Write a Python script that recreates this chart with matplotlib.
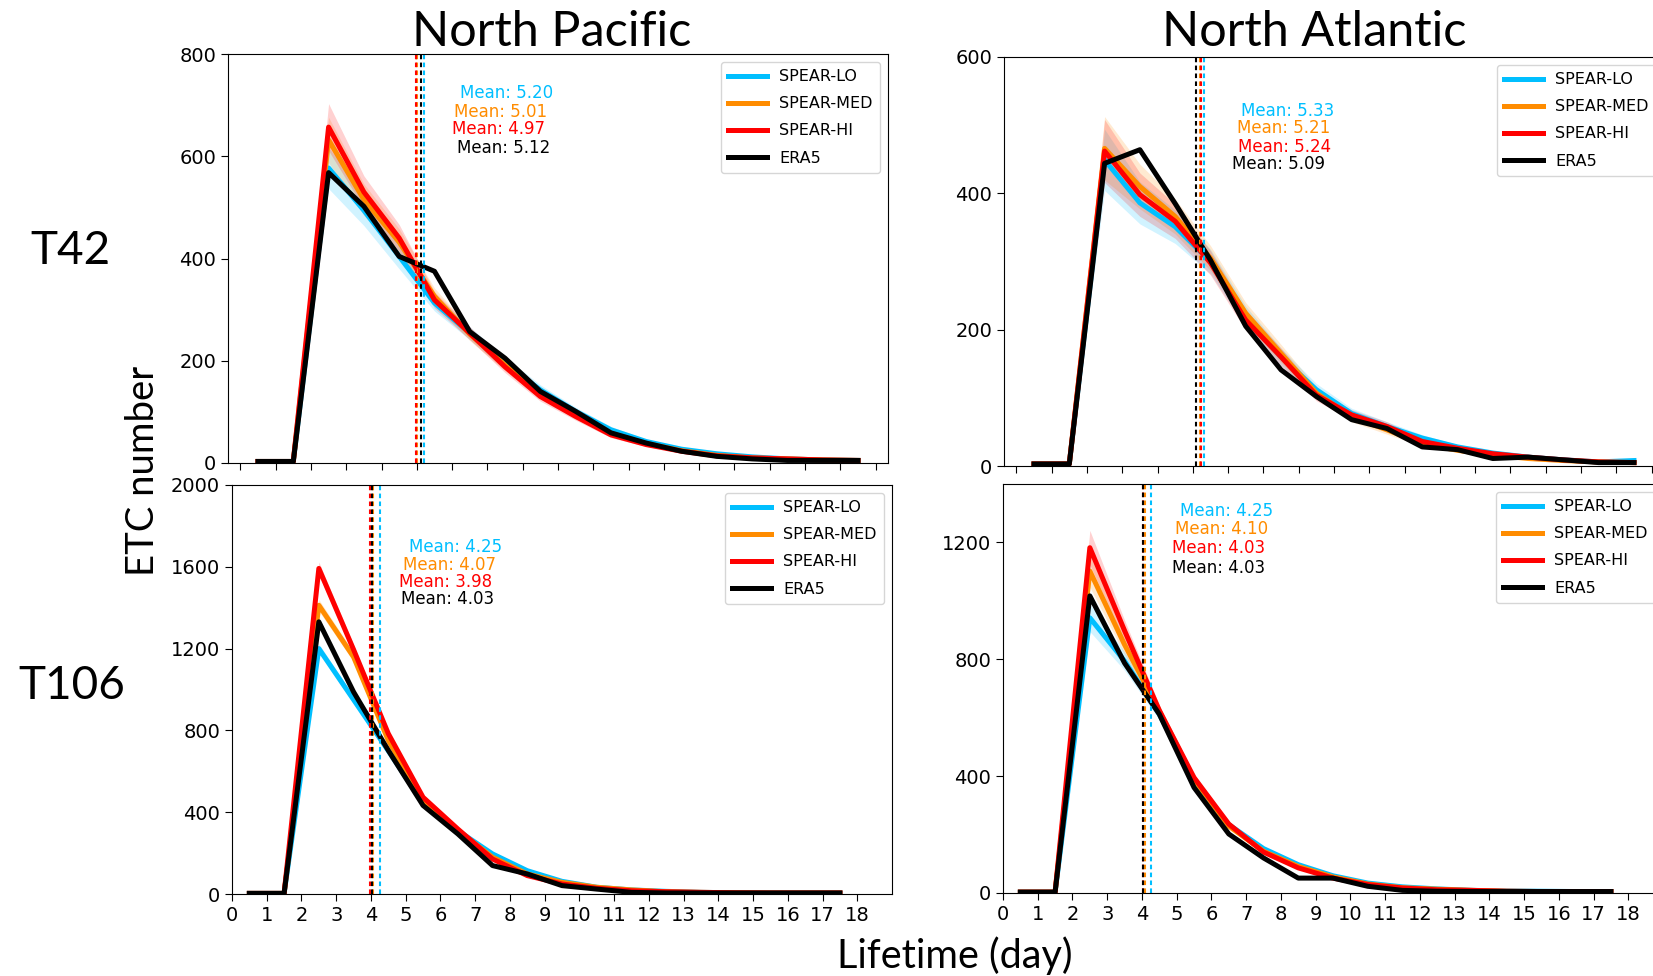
import numpy as np
import matplotlib
matplotlib.use('Agg')
import matplotlib.pyplot as plt

# lifetime bins (day)
days = [0.5, 1.5, 2.5, 3.5, 4.5, 5.5, 6.5, 7.5, 8.5, 9.5,
        10.5, 11.5, 12.5, 13.5, 14.5, 15.5, 16.5, 17.5]
models = ['SPEAR-LO', 'SPEAR-MED', 'SPEAR-HI', 'ERA5']
colors = ['#00bfff', '#ff8c00', '#ff0000', '#000000']

# North Pacific, T42
np42_lo = [3, 3, 577, 494, 404, 313, 254, 195, 143, 101, 65, 42, 27, 18, 12, 8, 6, 5]
np42_med = [3, 3, 632, 515, 432, 326, 252, 192, 135, 95, 58, 38, 24, 15, 10, 8, 6, 5]
np42_hi = [3, 3, 657, 530, 440, 319, 254, 188, 130, 91, 55, 36, 23, 14, 10, 8, 6, 5]
np42_era5 = [3, 3, 568, 502, 404, 375, 257, 205, 140, 101, 59, 39, 23, 13, 8, 5, 5, 5]
np42_spread = [0, 0, .07, .06, .06, .05, .05, .06, .07, .08, .1, .1, .1, .1, .1, .1, .1, .1]
np42_means = [5.20, 5.01, 4.97, 5.12]

# North Atlantic, T42
na42_lo = [3, 3, 449, 386, 351, 300, 219, 160, 112, 77, 58, 41, 28, 19, 13, 9, 6, 8]
na42_med = [3, 3, 466, 410, 366, 305, 224, 165, 107, 72, 53, 33, 23, 16, 11, 8, 6, 5]
na42_hi = [3, 3, 462, 398, 359, 298, 214, 160, 104, 75, 58, 36, 26, 18, 13, 9, 6, 5]
na42_era5 = [3, 3, 444, 464, 385, 302, 205, 141, 102, 68, 55, 28, 24, 11, 13, 9, 5, 5]
na42_spread = [0, 0, .1, .08, .07, .06, .07, .08, .08, .1, .12, .12, .12, .12, .12, .12, .12, .12]
na42_means = [5.33, 5.21, 5.24, 5.09]

# North Pacific, T106
np106_lo = [3, 3, 1200, 950, 700, 445, 310, 196, 114, 62, 33, 20, 13, 8, 6, 5, 5, 5]
np106_med = [3, 3, 1412, 1159, 751, 457, 310, 180, 98, 57, 33, 20, 11, 8, 6, 5, 5, 5]
np106_hi = [3, 3, 1592, 1195, 784, 473, 318, 171, 90, 49, 28, 16, 11, 8, 6, 5, 5, 5]
np106_era5 = [3, 3, 1331, 988, 702, 433, 294, 139, 98, 41, 24, 8, 5, 5, 5, 5, 5, 5]
np106_spread = [0, 0, .02, .02, .02, .02, .03, .04, .05, .06, .08, .08, .08, .08, .08, .08, .08, .08]
np106_means = [4.25, 4.07, 3.98, 4.03]

# North Atlantic, T106
na106_lo = [3, 3, 942, 794, 612, 383, 234, 152, 97, 59, 34, 21, 14, 9, 7, 6, 5, 5]
na106_med = [3, 3, 1102, 850, 623, 389, 229, 143, 91, 55, 31, 18, 13, 9, 6, 5, 5, 5]
na106_hi = [3, 3, 1182, 898, 625, 395, 236, 140, 86, 51, 29, 17, 11, 9, 6, 5, 5, 5]
na106_era5 = [3, 3, 1017, 787, 612, 361, 202, 120, 51, 51, 23, 9, 6, 5, 5, 5, 5, 5]
na106_spread = [0, 0, .05, .04, .03, .03, .04, .05, .06, .07, .08, .08, .08, .08, .08, .08, .08, .08]
na106_means = [4.25, 4.10, 4.03, 4.03]

W, H = 1653, 976
fig = plt.figure(figsize=(W / 100, H / 100), dpi=100)


def box(left, top, bottom, width=660):
    return [left / W, 1 - bottom / H, width / W, (bottom - top) / H]


def panel(rect, series, spread, means, ylim, yticks, xlim, text_dx, text_y, xlabels):
    ax = fig.add_axes(rect)
    x = np.array(days)
    sp = np.array(spread)
    for k, (name, c) in enumerate(zip(models, colors)):
        y = np.array(series[k], dtype=float)
        if k < 3:
            ax.fill_between(x, y * (1 - sp), y * (1 + sp), color=c, alpha=0.18, lw=0)
        ax.plot(x, y, color=c, lw=3.6, label=name)
    for k, c in enumerate(colors):
        ax.axvline(means[k], color=c, lw=1.5, ls=(0, (2.2, 1.6)))
    for k, c in enumerate(colors):
        ax.text(means[k] + text_dx, text_y[k], 'Mean: %.2f' % means[k], color=c,
                fontsize=12, ha='left', va='center', transform=ax.get_xaxis_transform())
    ax.set_xlim(*xlim)
    ax.set_ylim(*ylim)
    ax.set_yticks(yticks)
    ax.set_xticks(range(19))
    if not xlabels:
        ax.set_xticklabels([])
    ax.tick_params(labelsize=14, length=5)
    ax.legend(loc='upper right', fontsize=11.5, handlelength=2.4,
              labelspacing=0.76, borderpad=0.45)
    return ax


panel(box(228, 54, 463), [np42_lo, np42_med, np42_hi, np42_era5], np42_spread, np42_means,
      (0, 800), [0, 200, 400, 600, 800], (-0.35, 18.35), 1.03,
      [0.905, 0.858, 0.816, 0.770], False)
panel(box(1004, 57, 466), [na42_lo, na42_med, na42_hi, na42_era5], na42_spread, na42_means,
      (0, 600), [0, 200, 400, 600], (-0.35, 18.35), 1.03,
      [0.868, 0.826, 0.780, 0.738], False)
panel(box(232, 485, 894), [np106_lo, np106_med, np106_hi, np106_era5], np106_spread, np106_means,
      (0, 2000), [0, 400, 800, 1200, 1600, 2000], (0, 19), 0.84,
      [0.848, 0.804, 0.762, 0.721], True)
panel(box(1003, 484, 893), [na106_lo, na106_med, na106_hi, na106_era5], na106_spread, na106_means,
      (0, 1400), [0, 400, 800, 1200], (0, 19), 0.84,
      [0.934, 0.890, 0.843, 0.795], True)

big = dict(family='Lato', color='black')
fig.text(552 / W, 1 - 46 / H, 'North Pacific', fontsize=35, ha='center', va='baseline', **big)
fig.text(1314 / W, 1 - 46 / H, 'North Atlantic', fontsize=35, ha='center', va='baseline', **big)
fig.text(70 / W, 1 - 264 / H, 'T42', fontsize=33, ha='center', va='baseline', **big)
fig.text(72 / W, 1 - 699 / H, 'T106', fontsize=33, ha='center', va='baseline', **big)
fig.text(161 / W, 1 - 471 / H, 'ETC number', fontsize=27.5, rotation=90,
         ha='right', va='center', **big)
fig.text(955 / W, 1 - 968 / H, 'Lifetime (day)', fontsize=28.5, ha='center', va='baseline', **big)

fig.savefig('out.png', dpi=100)
